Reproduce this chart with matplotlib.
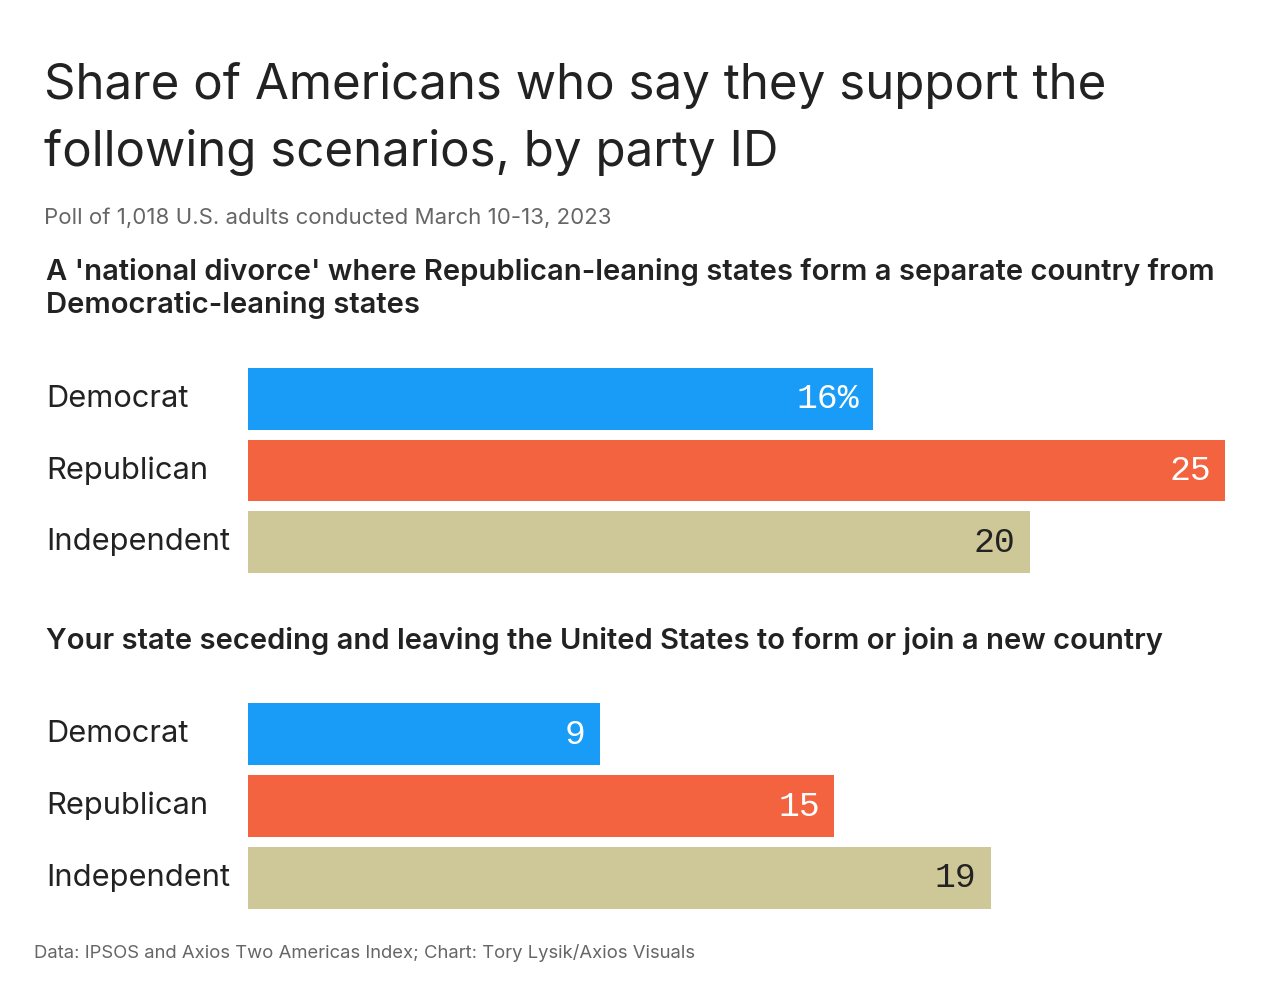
import matplotlib
matplotlib.use("Agg")
import matplotlib.pyplot as plt

W, H = 1280, 985

categories = ["Democrat", "Republican", "Independent"]
divorce_values = [16, 25, 20]
secede_values = [9, 15, 19]
divorce_labels = ["16%", "25", "20"]
secede_labels = ["9", "15", "19"]
colors = ["#199CF7", "#F4633F", "#CEC797"]
text_colors = ["white", "white", "#222222"]

title_lines = ["Share of Americans who say they support the",
               "following scenarios, by party ID"]
subtitle = "Poll of 1,018 U.S. adults conducted March 10-13, 2023"
q1_lines = ["A 'national divorce' where Republican-leaning states form a separate country from",
            "Democratic-leaning states"]
q2_lines = ["Your state seceding and leaving the United States to form or join a new country"]
footer = "Data: IPSOS and Axios Two Americas Index; Chart: Tory Lysik/Axios Visuals"

SANS = ["Inter", "DejaVu Sans"]
MONO = ["Liberation Mono", "DejaVu Sans Mono"]

fig = plt.figure(figsize=(W / 100, H / 100), dpi=100)
fig.patch.set_facecolor("white")


def fx(x):
    return x / W


def fy(y):
    return 1 - y / H


def txt(x, y, s, **kw):
    fig.text(fx(x), fy(y), s, **kw)


# Title
txt(44, 99, title_lines[0], fontsize=35.5, color="#222222", family=SANS, va="baseline")
txt(44, 166, title_lines[1], fontsize=35.5, color="#222222", family=SANS, va="baseline")
txt(44, 224, subtitle, fontsize=16, color="#666666", family=SANS, va="baseline")

# Question headers
for y, s in zip([280, 313], q1_lines):
    txt(46, y, s, fontsize=21, color="#222222", family=SANS,
        weight="semibold", va="baseline")
txt(46, 649, q2_lines[0], fontsize=21, color="#222222", family=SANS,
    weight="semibold", va="baseline")

txt(34, 958, footer, fontsize=13.3, color="#666666", family=SANS, va="baseline")


def draw_group(top_px, bottom_px, values, labels):
    left = 248
    right = 1225
    ax = fig.add_axes([fx(left), fy(bottom_px), (right - left) / W,
                       (bottom_px - top_px) / H])
    hgt = 0.867
    ys = list(range(len(categories)))
    ax.barh(ys, values, height=hgt, color=colors)
    ax.set_xlim(0, 25)
    ax.set_ylim(2 + hgt / 2, -hgt / 2)
    ax.axis("off")
    for y, v, lab, tc in zip(ys, values, labels, text_colors):
        ax.annotate(lab, (v, y), xytext=(-10, 0), textcoords="offset points",
                    ha="right", va="center", fontsize=25, color=tc, family=MONO)
    for y, c in zip(ys, categories):
        ax.annotate(c, (0, y), xycoords=("axes fraction", "data"),
                    xytext=(-(left - 46) * 0.72, 0), textcoords="offset points",
                    ha="left", va="center", fontsize=22.2, color="#222222",
                    family=SANS)
    return ax


draw_group(368, 573, divorce_values, divorce_labels)
draw_group(703, 909, secede_values, secede_labels)

fig.savefig("out.png", dpi=100, facecolor="white")
